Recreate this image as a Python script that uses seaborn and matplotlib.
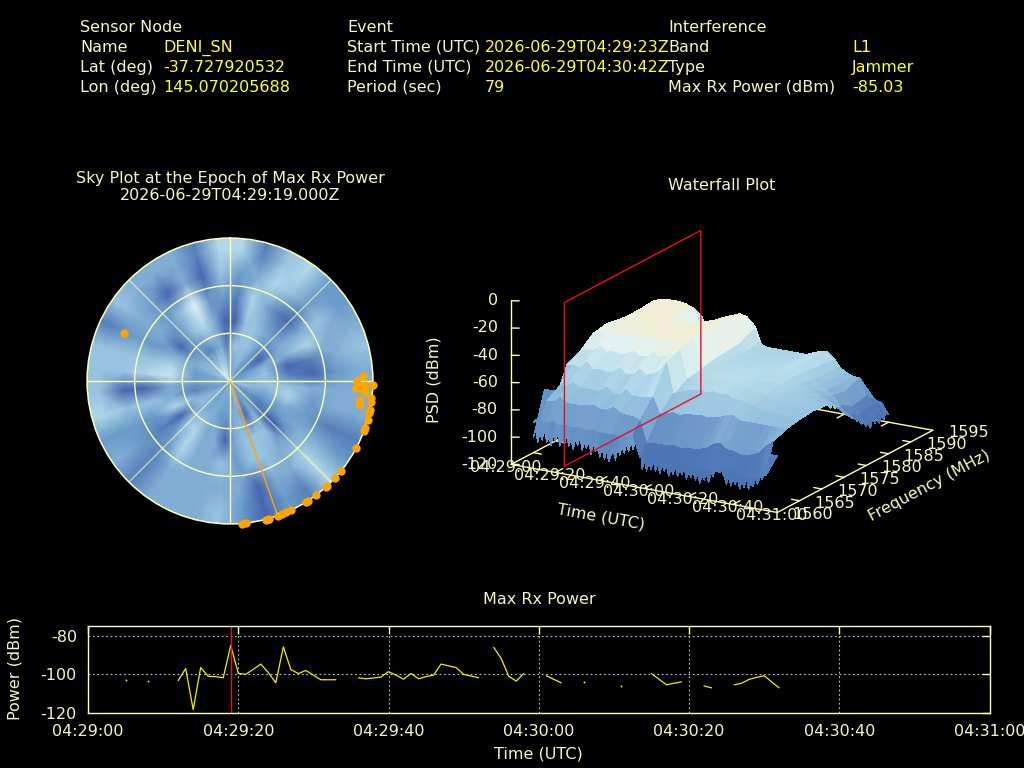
import numpy as np
import matplotlib
matplotlib.use("Agg")
import matplotlib.pyplot as plt
import seaborn as sns
from matplotlib.colors import LinearSegmentedColormap

W, H = 1024, 768
CREAM = "#f6f6c4"
LINE = "#ffffb4"
YELLOW = "#ffff33"
ORANGE = "#ffa500"
RED = "#e81020"
FS = 11.55

# header table
header_left = ["Sensor Node", "Name", "Lat (deg)", "Lon (deg)"]
header_left_vals = ["", "DENI_SN", "-37.727920532", "145.070205688"]
header_mid = ["Event", "Start Time (UTC)", "End Time (UTC)", "Period (sec)"]
header_mid_vals = ["", "2026-06-29T04:29:23Z", "2026-06-29T04:30:42Z", "79"]
header_right = ["Interference", "Band", "Type", "Max Rx Power (dBm)"]
header_right_vals = ["", "L1", "Jammer", "-85.03"]

# sky plot: brightness level per 10 deg sector, rings from zenith out to horizon
sky_r1 = [4,5,5,4,4,4,4,4,5, 5,6,5,4,5,4,5,6,4, 5,5,5,4,5,5,4,5,5, 5,5,6,6,7,8,8,7,6]
sky_r2 = [6,6,6,5,3,2,5,6,6, 6,5,4,3,3,5,2,5,5, 4,4,5,5,5,6,5,3,4, 4,4,5,5,4,3,4,5,3]
sky_r3 = [2,6,6,5,4,5,5,2,3, 6,7,5,4,1,6,6,6,5, 2,5,5,7,6,2,7,5,5, 8,7,5,2,4,6,7,5,2]
sky_r4 = [3,7,5,3,2,5,7,3,2, 5,4,4,5,5,5,6,6,4, 6,5,5,7,4,3,4,6,2, 7,6,4,5,4,6,9,4,4]
sky_r5 = [4,5,7,6,4,6,5,5,4, 5,5,3,5,7,5,5,2,5, 5,5,5,5,3,4,4,6,2, 6,6,4,5,4,2,5,2,6]
sky_r6 = [7,3,6,7,4,4,5,6,5, 5,5,3,4,7,3,4,2,4, 6,5,5,5,3,5,4,7,6, 6,6,3,6,5,5,5,3,7]
sky_az_nodes = list(range(5, 375, 10))
sky_zenith_nodes = [0, 7.5, 22.5, 37.5, 52.5, 67.5, 82.5, 90]

# satellites, azimuth and elevation in degrees
sat_az = [294.5, 88, 90, 91.7, 93.3, 93.1, 91.7, 94.5, 93.2, 98.4, 100.5, 97, 98.3, 101.6, 103,
          105.8, 109.2, 110.6, 117.9, 128.9, 132.7, 137.4, 138, 143.1, 146.9, 148, 154.6, 156.8,
          158.6, 160.4, 164.1, 165.6, 173.4, 175.3]
sat_el = [16.4, 6.3, 10, 0, 10.3, 6.3, 5.3, 5, 8.3, 7.9, 7, 0.6, 0.5, 0, 0,
          0, 0, 0, 0, 0, 0, 0, 0, 0, 0, 0, 0, 0,
          0, 0, 0, 0, 0, 0]
max_az = 160.5

# waterfall, seconds after 04:29:00 and MHz
wf_time = [5,8,11,14,17,20,23,26,29,32,35,38,41,44,47,50,53,56,59,62,65,68,71,74,77,80,83,86,89,92,95,98,101,104,107,110]
wf_freq = [1562.5,1564,1567,1570,1573,1576,1579,1582,1585,1588,1590]
psd_1562 = [-92,-90,-90,-88,-90,-89,-90,-89,-90,-89,-90,-90,-90,-90,-90,-88,-104,-103,-104,-103,-104,-103,-104,-103,-104,-103,-104,-103,-104,-100,-100,-103,-104,-103,-102,-100]
psd_1564 = [-90,-78,-78,-74,-77,-77,-77,-76,-75,-77,-77,-74,-77,-78,-78,-80,-96,-95,-95,-95,-94,-95,-94,-94,-93,-92,-88,-86,-90,-90,-92,-92,-90,-88,-82,-78]
psd_1567 = [-88,-72,-72,-68,-71,-71,-71,-71,-67,-71,-71,-66,-70,-70,-69,-68,-80,-78,-77,-78,-76,-76,-75,-76,-75,-74,-72,-71,-74,-74,-74,-74,-74,-74,-74,-74]
psd_1570 = [-63,-62,-64,-58,-63,-62,-63,-62,-58,-62,-61,-56,-60,-58,-55,-48,-70,-68,-66,-65,-64,-65,-63,-64,-63,-66,-66,-67,-68,-70,-70,-71,-71,-72,-73,-72]
psd_1573 = [-58,-56,-56,-52,-55,-54,-55,-54,-51,-54,-53,-49,-52,-50,-47,-44,-64,-63,-62,-61,-60,-61,-60,-61,-61,-63,-66,-65,-66,-68,-68,-69,-70,-70,-71,-71]
psd_1576 = [-50,-49,-49,-47,-48,-47,-48,-47,-45,-47,-47,-44,-46,-44,-42,-39,-62,-63,-62,-62,-61,-62,-61,-62,-62,-63,-63,-62,-64,-67,-67,-68,-69,-70,-71,-72]
psd_1579 = [-48,-47,-46,-45,-45,-44,-45,-44,-43,-44,-44,-42,-43,-42,-40,-38,-60,-63,-62,-63,-62,-63,-62,-62,-62,-62,-61,-60,-63,-67,-69,-71,-73,-75,-77,-78]
psd_1582 = [-50,-47,-45,-44,-44,-43,-43,-43,-46,-45,-46,-44,-44,-42,-40,-38,-59,-63,-63,-64,-63,-64,-63,-63,-63,-62,-60,-60,-64,-69,-72,-75,-78,-84,-90,-92]
psd_1585 = [-51,-47,-44,-43,-43,-42,-43,-44,-52,-50,-49,-47,-46,-43,-41,-40,-58,-64,-64,-65,-65,-65,-64,-64,-64,-62,-60,-60,-65,-70,-73,-76,-80,-90,-95,-100]
psd_1588 = [-50,-46,-44,-43,-43,-43,-44,-46,-58,-56,-54,-51,-49,-46,-44,-45,-53,-63,-65,-65,-65,-65,-65,-65,-65,-63,-61,-60,-66,-70,-73,-75,-75,-88,-93,-96]
psd_1590 = [-60,-58,-56,-54,-54,-54,-55,-56,-68,-66,-64,-62,-60,-57,-55,-56,-70,-75,-75,-76,-76,-76,-75,-74,-73,-72,-70,-70,-76,-82,-86,-88,-88,-94,-95,-103]

# jagged noise floor along the near edge of the waterfall, one value per second
fringe_time = list(range(5, 111))
fringe_psd = [-103,-98,-106,-100,-104,-97,-105,-101,-107,-99,-103,-98,-106,-100,-104,
              -98,-105,-100,-107,-99,-103,-97,-106,-101,-104,-99,-108,-100,-105,-103,-109,-102,-110,-104,-111,
              -106,-103,-109,-100,-105,-98,-103,-96,-101,-94,-99,-92,-96,-91,
              -112,-105,-113,-106,-111,-104,-112,-107,-113,-105,
              -111,-106,-114,-108,-112,-105,-113,-107,-111,-106,
              -114,-108,-112,-107,-113,-109,-115,-108,-112,-107,
              -113,-105,-108,-101,-104,-100,-103,-107,-112,-105,
              -113,-107,-111,-106,-114,-108,-112,-105,-113,-108,
              -110,-104,-108,-100,-104,-96,-100]
# and along the last time slice, every 0.5 MHz from 1576
rear_freq = [1576,1576.5,1577,1577.5,1578,1578.5,1579,1579.5,1580,1580.5,1581,1581.5,1582,1582.5,1583,
             1583.5,1584,1584.5,1585,1585.5,1586,1586.5,1587,1587.5,1588,1588.5,1589,1589.5,1590]
rear_psd = [-72,-70,-76,-72,-78,-74,-80,-76,-84,-80,-88,-84,-92,-87,-96,
            -90,-100,-94,-103,-97,-106,-99,-104,-98,-106,-100,-105,-99,-103]

wf_z_ticks = [0, -20, -40, -60, -80, -100, -120]
wf_f_ticks = [1560, 1565, 1570, 1575, 1580, 1585, 1590, 1595]
time_ticks = [0, 20, 40, 60, 80, 100, 120]
time_labels = ["04:29:00", "04:29:20", "04:29:40", "04:30:00", "04:30:20", "04:30:40", "04:31:00"]

# max rx power, runs between dropouts
pw_t1 = [12,13,14,15,16,17,18,19,20,21,22,23,24,25,26,27,28,29,30,31,32,33]
pw_p1 = [-103.3,-97,-118.2,-96.5,-101,-101.2,-101.8,-85.03,-99.5,-100,-97.4,-94.7,-99.1,-104.4,-85.8,-97.5,-99.6,-98,-100.4,-102.8,-102.8,-102.8]
pw_t2 = [36,37,38,39,40,41,42,43,44,45,46,47,48,49,50,51,52]
pw_p2 = [-101.8,-102.3,-101.9,-101.4,-98.6,-100.4,-102.5,-99.6,-102.3,-101.2,-100.4,-94.7,-95.6,-96.5,-100,-100.9,-101.8]
pw_t3 = [54,55,56,57,58]
pw_p3 = [-86,-91.8,-101,-103.5,-99.6]
pw_t4 = [61,62,63]
pw_p4 = [-100.7,-102.6,-104.4]
pw_t5 = [75,76,77,78,79]
pw_p5 = [-99.6,-102.5,-105.4,-104.6,-103.9]
pw_t6 = [82,83]
pw_p6 = [-106,-107]
pw_t7 = [86,87,88,89,90,91,92]
pw_p7 = [-105.4,-104.6,-102.6,-101.6,-100.7,-103.9,-107]
pw_dots_t = [5, 8, 66, 71]
pw_dots_p = [-102.8, -103.3, -103.9, -106]
epoch_t = 19


def px_text(fig, x, y, s, **kw):
    kw.setdefault("color", CREAM)
    kw.setdefault("fontsize", FS)
    kw.setdefault("va", "center")
    fig.text(x / W, 1 - y / H, s, **kw)


def draw_header(fig):
    rows = [32, 52, 72, 92]
    cols = [(80, 163, header_left, header_left_vals),
            (347, 485, header_mid, header_mid_vals),
            (668, 852, header_right, header_right_vals)]
    for x_lab, x_val, labels, vals in cols:
        for y, lab, val in zip(rows, labels, vals):
            px_text(fig, x_lab, y, lab, va="baseline")
            px_text(fig, x_val, y, val, color=YELLOW, va="baseline")


def draw_sky(fig):
    ax = fig.add_axes([87 / W, 1 - 524 / H, 286 / W, 286 / H], projection="polar")
    ax.set_facecolor("black")
    ax.set_theta_zero_location("N")
    ax.set_theta_direction(-1)
    rings = np.array([sky_r1, sky_r1, sky_r2, sky_r3, sky_r4, sky_r5, sky_r6, sky_r6], dtype=float)
    rings = np.column_stack([rings, rings[:, 0]])
    sky_cmap = LinearSegmentedColormap.from_list(
        "sky", ["#3c50a5", "#4565ae", "#5480bb", "#6a9bc9", "#7fadd4", "#98c3e0", "#b0d7e8", "#c8e6ef", "#e4f4f6"])
    ax.pcolormesh(np.radians(sky_az_nodes), sky_zenith_nodes, rings, cmap=sky_cmap,
                  vmin=1, vmax=9, shading="gouraud", zorder=1)
    ax.set_ylim(0, 90)
    ax.set_xticks(np.radians([0, 45, 90, 135, 180, 225, 270, 315]))
    ax.set_yticks([30, 60, 90])
    ax.set_xticklabels([])
    ax.set_yticklabels([])
    ax.grid(True, color=LINE, lw=1, ls="-", zorder=2)
    for i, gl in enumerate(ax.xaxis.get_gridlines()):
        gl.set_zorder(2)
        if i % 2:
            gl.set_alpha(0.65)
    for gl in ax.yaxis.get_gridlines():
        gl.set_zorder(2)
    ax.set_axisbelow(False)
    ax.spines["polar"].set_color(LINE)
    ax.spines["polar"].set_linewidth(1)
    sns.lineplot(x=np.radians([max_az, max_az]), y=[0, 90], color=ORANGE, lw=1, ax=ax, zorder=3,
                 estimator=None, sort=False)
    sns.scatterplot(x=np.radians(sat_az), y=90 - np.array(sat_el), color=ORANGE, s=36, marker="o",
                    linewidth=0, ax=ax, zorder=4, clip_on=False)
    ax.set_xlabel("")
    ax.set_ylabel("")
    ax.set_ylim(0, 90)
    px_text(fig, 230, 178, "Sky Plot at the Epoch of Max Rx Power", ha="center")
    px_text(fig, 230, 196, "2026-06-29T04:29:19.000Z", ha="center")


def draw_waterfall(fig):
    size = 455
    left = 722 - 0.5135 * size
    bottom = 768 - (365.5 + 0.5135 * size)
    ax = fig.add_axes([left / W, bottom / H, size / W, size / H], projection="3d")
    ax.set_proj_type("ortho")
    ax.view_init(elev=18, azim=-59.7)
    ax.set_box_aspect((310, 310, 173))
    ax.set_xlim(0, 120, view_margin=0)
    ax.set_ylim(1560, 1595, view_margin=0)
    ax.set_zlim(-120, 0, view_margin=0)
    ax.set_axis_off()
    ax.patch.set_alpha(0)
    ax.computed_zorder = False

    f0, f1 = 1560, 1595
    t0, t1 = 0, 120
    z0 = -120
    # base of the box
    for xs, ys in [([t0, t1], [f0, f0]), ([t1, t1], [f0, f1]), ([t1, t0], [f1, f1]), ([t0, t0], [f1, f0])]:
        ax.plot(xs, ys, [z0, z0], color=LINE, lw=1, zorder=1)
    for t in time_ticks[1:-1]:
        ax.plot([t, t], [f0, f0 + 1.6], [z0, z0], color=LINE, lw=1, zorder=1)
        ax.plot([t, t], [f1, f1 - 1.6], [z0, z0], color=LINE, lw=1, zorder=1)
    for f in wf_f_ticks[1:-1]:
        ax.plot([t1, t1 - 3.6], [f, f], [z0, z0], color=LINE, lw=1, zorder=1)
        ax.plot([t0, t0 + 3.6], [f, f], [z0, z0], color=LINE, lw=1, zorder=1)

    wf_cmap = LinearSegmentedColormap.from_list(
        "wf", [(0, "#4065aa"), (0.294, "#5580bb"), (0.544, "#8dbcdb"), (0.765, "#bcdfec"),
               (0.91, "#e4f2f0"), (1, "#f2eed6")])
    style = dict(cmap=wf_cmap, vmin=-112, vmax=-44, rstride=1, cstride=1,
                 linewidth=0, antialiased=False, shade=False)

    # noise floor strips go first, the main surface paints over their upper side
    near_t, near_f = np.meshgrid(fringe_time, [1562.5, 1565])
    near_z = np.array([fringe_psd, np.where(np.array(fringe_time) < 53, -72.0, -90.0)])
    ax.plot_surface(near_t, near_f, near_z, zorder=1.5, **style)
    rear_t, rear_f = np.meshgrid([107, 110], rear_freq)
    rear_z = np.column_stack([np.array(rear_psd) + 6, rear_psd])
    ax.plot_surface(rear_t, rear_f, rear_z, zorder=1.6, **style)

    grid_t, grid_f = np.meshgrid(wf_time, wf_freq)
    psd = np.array([psd_1562, psd_1564, psd_1567, psd_1570, psd_1573, psd_1576,
                    psd_1579, psd_1582, psd_1585, psd_1588, psd_1590], dtype=float)
    ax.plot_surface(grid_t, grid_f, psd, zorder=2, **style)

    # z axis
    ax.plot([t0, t0], [f0, f0], [z0, 0], color=LINE, lw=1, zorder=3)
    for z in wf_z_ticks:
        ax.plot([t0, t0 + 3.6], [f0, f0], [z, z + 1], color=LINE, lw=1, zorder=3)
        ax.text(t0 - 6, f0, z - 1.7, str(z), color=CREAM, fontsize=FS, ha="right", va="center", zorder=5)

    # epoch frame
    fr0, fr1 = 1562.5, 1593.2
    ax.plot([epoch_t] * 5, [fr0, fr0, fr1, fr1, fr0], [z0, 0, 0, z0, z0], color=RED, lw=1, zorder=4)

    for t, lab in zip(time_ticks, time_labels):
        ax.text(t - 2.5, f0, z0 - 3, lab, color=CREAM, fontsize=FS, ha="center", va="center", zorder=5)
    for f in wf_f_ticks:
        ax.text(t1 + 16, f, z0 + 3, str(f), color=CREAM, fontsize=FS, ha="center", va="center", zorder=5)
    ax.text(40.4, f0, -147, "Time (UTC)", zdir="x", color=CREAM, fontsize=FS, ha="center", va="center", zorder=5)
    ax.text(t1, 1594.3, -159.6, "Frequency (MHz)", zdir="y", color=CREAM, fontsize=FS, ha="center", va="center", zorder=5)
    ax.text(-34.6, f0, -68, "PSD (dBm)", zdir="z", color=CREAM, fontsize=FS, ha="center", va="center", zorder=5)
    px_text(fig, 722, 185, "Waterfall Plot", ha="center")


def draw_power(fig):
    ax = fig.add_axes([88 / W, 1 - 713 / H, 901.5 / W, 87 / H])
    ax.set_facecolor("black")
    ax.set_xlim(0, 120)
    ax.set_ylim(-120, -75)
    ax.set_xticks(time_ticks)
    ax.set_xticklabels(time_labels)
    ax.set_yticks([-80, -100, -120])
    ax.tick_params(direction="in", top=True, right=True, length=6, width=1, color=LINE,
                   labelcolor=CREAM, labelsize=FS, pad=8)
    ax.grid(True, color="#c8c8c8", ls=(0, (1.5, 2.5)), lw=0.8)
    ax.set_axisbelow(True)
    for s in ax.spines.values():
        s.set_color(LINE)
        s.set_linewidth(1)
    for seg_t, seg_p in [(pw_t1, pw_p1), (pw_t2, pw_p2), (pw_t3, pw_p3), (pw_t4, pw_p4),
                         (pw_t5, pw_p5), (pw_t6, pw_p6), (pw_t7, pw_p7)]:
        sns.lineplot(x=seg_t, y=seg_p, color="#f0f000", lw=0.9, ax=ax)
    sns.scatterplot(x=pw_dots_t, y=pw_dots_p, color="#f0f000", s=2, linewidth=0, ax=ax)
    ax.axvline(epoch_t, color=RED, lw=1)
    ax.set_xlim(0, 120)
    ax.set_xlabel("")
    ax.set_ylabel("")
    px_text(fig, 539, 600, "Max Rx Power", ha="center")
    px_text(fig, 538, 754, "Time (UTC)", ha="center")
    px_text(fig, 15, 669, "Power (dBm)", ha="center", rotation=90)


def main():
    sns.set_theme(style="dark")
    plt.rcParams["font.family"] = ["DejaVu Sans"]
    plt.rcParams["axes.unicode_minus"] = False
    fig = plt.figure(figsize=(W / 100, H / 100), dpi=100, facecolor="black")
    draw_header(fig)
    draw_sky(fig)
    draw_waterfall(fig)
    draw_power(fig)
    fig.savefig("out.png", dpi=100, facecolor="black")


if __name__ == "__main__":
    main()
